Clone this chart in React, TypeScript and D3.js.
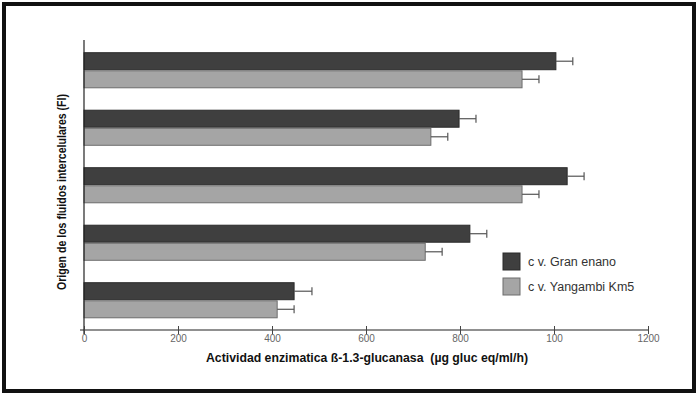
import { useEffect, useRef } from "react";
import * as d3 from "d3";

const groups = ["A", "B", "C", "D", "E"];
const series = ["c v. Gran enano", "c v. Yangambi Km5"];
const granEnano = [1004, 798, 1028, 821, 447];
const yangambi = [932, 738, 932, 726, 411];
const granEnanoErr = [36, 36, 36, 36, 38];
const yangambiErr = [36, 36, 36, 36, 36];
const tickValues = [0, 200, 400, 600, 800, 1000, 1200];
const tickLabels = ["0", "200", "400", "600", "800", "100", "1200"];

const colors = ["#3f3f3f", "#a5a5a5"];
const strokes = ["#2a2a2a", "#6d6d6d"];
const font = "'Liberation Sans Narrow', 'Liberation Sans', Arial, sans-serif";

export default function App() {
  const ref = useRef<SVGSVGElement>(null);
  useEffect(() => {
    if (!ref.current) return;
    const svg = d3.select(ref.current);
    svg.selectAll("*").remove();
    const w = 698;
    const h = 396;

    svg.append("rect").attr("width", w).attr("height", h).attr("fill", "#fff");
    svg.append("rect")
      .attr("x", 4).attr("y", 4).attr("width", w - 8).attr("height", h - 9)
      .attr("fill", "none").attr("stroke", "#111").attr("stroke-width", 4);

    const x = d3.scaleLinear().domain([0, 1200]).range([84, 648]);
    const y = d3.scaleBand<string>().domain(groups).range([41.5, 329]).paddingInner(0.39).paddingOuter(0.195);
    const sub = d3.scaleBand<number>().domain([0, 1]).range([0, y.bandwidth()]).paddingInner(0.06);

    const values = [granEnano, yangambi];
    const errs = [granEnanoErr, yangambiErr];

    groups.forEach((g, i) => {
      values.forEach((vals, s) => {
        const by = y(g)! + sub(s)!;
        const bh = sub.bandwidth();
        svg.append("rect")
          .attr("x", x(0)).attr("y", by)
          .attr("width", x(vals[i]) - x(0)).attr("height", bh)
          .attr("fill", colors[s]).attr("stroke", strokes[s]).attr("stroke-width", 1);
        const cy = by + bh / 2;
        const xe = x(vals[i] + errs[s][i]);
        svg.append("line")
          .attr("x1", x(vals[i])).attr("x2", xe).attr("y1", cy).attr("y2", cy)
          .attr("stroke", "#555").attr("stroke-width", 1.2);
        svg.append("line")
          .attr("x1", xe).attr("x2", xe).attr("y1", cy - 4).attr("y2", cy + 4)
          .attr("stroke", "#555").attr("stroke-width", 1.2);
      });
    });

    // axes
    svg.append("line")
      .attr("x1", x(0)).attr("x2", x(0)).attr("y1", 40).attr("y2", 334)
      .attr("stroke", "#222").attr("stroke-width", 1.2);

    svg.append("g")
      .attr("transform", "translate(0,330)")
      .call(d3.axisBottom(x).tickValues(tickValues).tickSize(4).tickSizeOuter(0)
        .tickFormat((_, i) => tickLabels[i]))
      .call((g) => g.select(".domain").attr("stroke", "#222").attr("stroke-width", 1.2).attr("d", `M${x(0) - 4},0H${x(1200)}`))
      .call((g) => g.selectAll(".tick line").attr("stroke", "#444").attr("y1", -4).attr("y2", 4))
      .call((g) => g.selectAll("text").attr("font-family", font).attr("font-size", 10)
        .attr("fill", "#666").attr("dy", "0.5em"));

    svg.append("text")
      .attr("x", 367).attr("y", 362).attr("text-anchor", "middle")
      .attr("font-family", font).attr("font-weight", "bold").attr("font-size", 12.5)
      .attr("fill", "#111").attr("xml:space", "preserve")
      .attr("textLength", 322).attr("lengthAdjust", "spacingAndGlyphs")
      .text("Actividad enzimatica ß-1.3-glucanasa  (µg gluc eq/ml/h)");

    svg.append("text")
      .attr("transform", "translate(66,192) rotate(-90)")
      .attr("text-anchor", "middle")
      .attr("font-family", font).attr("font-weight", "bold").attr("font-size", 12.5)
      .attr("fill", "#111")
      .attr("textLength", 196).attr("lengthAdjust", "spacingAndGlyphs")
      .text("Origen de los fluidos intercelulares (FI)");

    // legend
    series.forEach((name, s) => {
      const ly = 253 + s * 25;
      svg.append("rect")
        .attr("x", 503).attr("y", ly).attr("width", 17).attr("height", 17)
        .attr("fill", colors[s]).attr("stroke", strokes[s]).attr("stroke-width", 1);
      svg.append("text")
        .attr("x", 528).attr("y", ly + 9).attr("dy", "0.35em")
        .attr("font-family", font).attr("font-size", 12.5).attr("fill", "#333")
        .text(name);
    });
  }, []);
  return <svg ref={ref} width={698} height={396} style={{ position: "absolute", left: 0, top: 0 }} />;
}
